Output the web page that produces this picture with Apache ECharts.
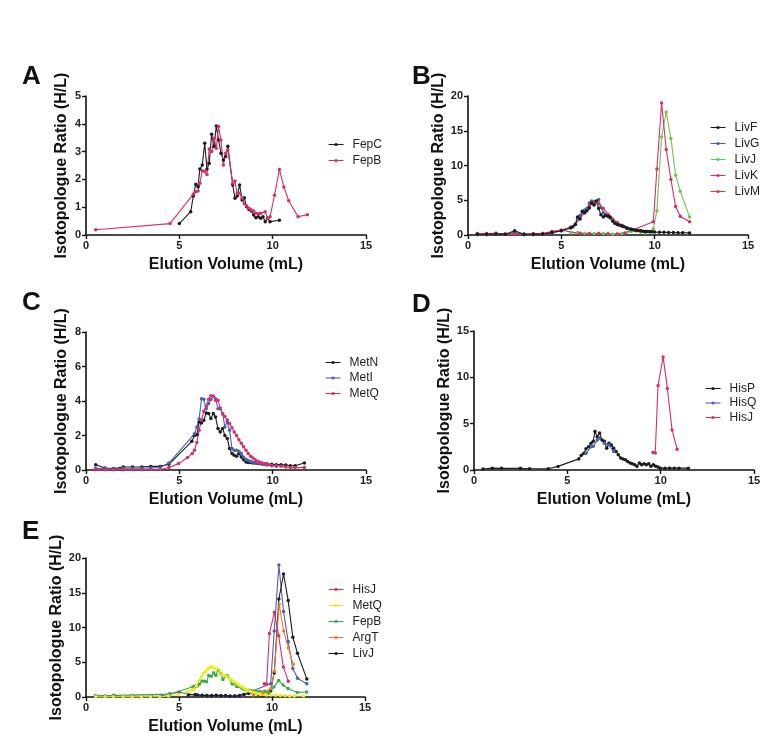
<!DOCTYPE html>
<html><head><meta charset="utf-8">
<script src="https://cdn.jsdelivr.net/npm/echarts@6/dist/echarts.min.js"></script>
<style>html,body{margin:0;padding:0;background:#fff}#c{width:780px;height:740px}</style>
</head><body><div id="c"></div>
<script>
// ---- tick settings ----
const xTicks = [0, 5, 10, 15];
const yMaxes = [5, 20, 8, 15, 20];
const yIntervals = [1, 5, 2, 5, 5];
const panelLetters = ['A', 'B', 'C', 'D', 'E'];

// ---- Panel A ----
const fepC = [[5.0,0.41],[5.61,0.84],[5.75,1.4],[5.88,1.83],[6.0,1.74],[6.1,2.37],[6.23,2.52],[6.36,3.3],[6.48,2.37],[6.6,2.58],[6.73,3.62],[6.86,3.18],[6.98,3.92],[7.1,3.42],[7.23,2.94],[7.36,2.7],[7.48,2.82],[7.6,3.19],[7.86,1.8],[7.98,1.32],[8.1,1.4],[8.23,1.8],[8.36,1.26],[8.48,1.34],[8.6,1.02],[8.73,0.92],[8.86,0.86],[8.98,0.72],[9.1,0.62],[9.23,0.66],[9.36,0.6],[9.48,0.66],[9.6,0.48],[9.73,0.6],[9.86,0.48],[10.36,0.53]];
const fepB = [[0.52,0.19],[4.5,0.41],[5.75,1.47],[5.88,1.56],[6.0,1.58],[6.1,1.86],[6.23,2.31],[6.36,2.28],[6.48,2.18],[6.6,3.09],[6.73,3.0],[6.86,3.48],[6.98,3.12],[7.1,3.9],[7.23,3.42],[7.36,2.52],[7.48,2.94],[7.6,3.06],[7.86,1.86],[7.98,1.94],[8.1,1.5],[8.23,1.5],[8.36,1.32],[8.48,1.12],[8.6,1.04],[8.73,0.96],[8.86,0.9],[8.98,0.86],[9.1,0.78],[9.23,0.76],[9.36,0.78],[9.6,0.84],[9.73,0.6],[9.86,0.66],[10.1,1.43],[10.36,2.36],[10.6,1.73],[10.86,1.23],[11.36,0.66],[11.86,0.73]];

// ---- Panel B ----
const livF = [[0.5,0.1],[1.0,0.12],[1.5,0.15],[2.0,0.12],[2.5,0.62],[3.0,0.1],[3.5,0.12],[4.0,0.15],[4.5,0.35],[5.0,0.6],[5.5,1.0],[5.62,1.2],[5.75,1.5],[5.87,2.6],[6.0,2.3],[6.12,3.4],[6.25,3.2],[6.37,3.5],[6.5,3.9],[6.62,4.6],[6.75,4.3],[6.87,4.9],[7.0,3.8],[7.12,2.9],[7.25,2.6],[7.37,2.8],[7.5,2.7],[7.62,2.6],[7.75,2.0],[7.87,1.7],[8.0,1.5],[8.12,1.4],[8.25,1.3],[8.37,1.2],[8.5,1.0],[8.62,0.9],[8.75,0.8],[8.87,0.75],[9.0,0.7],[9.12,0.65],[9.25,0.6],[9.37,0.55],[9.5,0.5],[9.62,0.5],[9.75,0.45],[9.87,0.45],[10.0,0.42],[10.25,0.4],[10.5,0.38],[10.75,0.36],[11.0,0.35],[11.25,0.33],[11.5,0.32],[11.87,0.3]];
const livG = [[0.5,0.05],[1.0,0.05],[1.5,0.1],[2.0,0.1],[2.5,0.4],[3.0,0.05],[3.5,0.05],[4.0,0.1],[4.5,0.3],[5.0,0.6],[5.5,1.1],[5.75,1.6],[5.87,2.4],[6.0,2.8],[6.12,3.2],[6.25,3.6],[6.37,3.8],[6.5,4.6],[6.62,4.9],[6.75,4.4],[6.87,4.7],[7.0,5.1],[7.12,4.0],[7.25,3.2],[7.37,2.9],[7.5,2.7],[7.62,2.4],[7.75,2.0],[7.87,1.7],[8.0,1.5],[8.25,1.3],[8.5,1.0],[8.75,0.85],[9.0,0.7],[9.25,0.6],[9.5,0.5],[9.75,0.45]];
const livJ = [[5.5,0.3],[5.87,0.35],[6.0,0.3],[6.25,0.25],[6.5,0.2],[6.75,0.2],[7.0,0.25],[7.25,0.2],[7.5,0.2],[7.75,0.15],[8.0,0.15],[8.25,0.2],[8.5,0.35],[8.75,0.5],[9.0,0.6],[9.25,0.4],[9.5,0.3],[9.75,0.5],[9.93,0.9],[10.12,3.5],[10.37,14.1],[10.62,17.7],[10.87,13.9],[11.12,8.6],[11.37,6.3],[11.87,2.6]];
const livK = [[0.5,0.15],[1.0,0.15],[1.5,0.25],[2.0,0.1],[2.5,0.15],[3.0,0.1],[3.5,0.1],[4.0,0.15],[4.5,0.45],[5.0,0.7],[6.0,0.2],[6.5,0.2],[7.0,0.2],[7.5,0.15],[8.0,0.15],[8.4,0.3],[9.93,1.9],[10.12,9.5],[10.37,19.0],[10.62,12.3],[10.87,8.0],[11.12,4.1],[11.37,2.7],[11.87,1.9]];
const livM = [[0.5,0.2],[1.0,0.2],[1.5,0.25],[2.0,0.15],[2.5,0.2],[3.0,0.15],[3.5,0.2],[4.0,0.25],[4.5,0.5],[5.0,0.7],[5.5,1.1],[5.75,1.5],[6.0,2.4],[6.25,3.2],[6.5,4.2],[6.75,4.8],[7.0,4.5],[7.25,3.8],[7.5,3.0],[7.75,2.3],[8.0,1.8],[8.25,1.4],[8.5,1.0],[8.75,0.8],[9.0,0.6],[9.5,0.5]];

// ---- Panel C ----
const metN = [[0.52,0.31],[1.02,0.12],[1.48,0.08],[2.0,0.17],[2.49,0.17],[2.99,0.17],[3.47,0.21],[3.97,0.21],[4.44,0.33],[5.67,1.66],[5.81,2.0],[5.94,2.05],[6.06,2.78],[6.19,2.72],[6.31,2.88],[6.44,3.3],[6.57,3.27],[6.69,2.98],[6.82,3.27],[6.94,3.07],[7.07,2.4],[7.19,2.2],[7.32,2.4],[7.44,2.0],[7.57,1.82],[7.69,1.24],[7.82,0.95],[7.94,0.85],[8.07,0.79],[8.19,0.95],[8.32,0.75],[8.44,0.6],[8.57,0.46],[8.69,0.43],[8.82,0.43],[8.94,0.41],[9.07,0.41],[9.2,0.37],[9.32,0.37],[9.45,0.35],[9.57,0.35],[9.7,0.35],[9.95,0.33],[10.2,0.31],[10.45,0.31],[10.7,0.29],[10.95,0.25],[11.2,0.25],[11.7,0.41]];
const metI = [[0.52,0.1],[1.02,0.08],[1.48,0.06],[2.0,0.1],[2.49,0.1],[2.99,0.1],[3.47,0.12],[3.97,0.14],[4.44,0.4],[5.81,2.1],[5.94,2.5],[6.06,2.95],[6.19,4.13],[6.31,4.1],[6.44,3.55],[6.57,3.85],[6.69,4.08],[6.82,4.27],[6.94,4.13],[7.07,3.55],[7.19,3.55],[7.32,3.27],[7.44,2.5],[7.57,2.78],[7.69,2.3],[7.82,1.24],[7.94,1.14],[8.07,1.14],[8.19,1.08],[8.32,0.95],[8.44,0.75],[8.57,0.62],[8.69,0.55],[8.82,0.5],[8.94,0.45],[9.07,0.42],[9.2,0.4],[9.32,0.38],[9.45,0.35],[9.57,0.32],[9.7,0.3],[9.95,0.25],[10.2,0.22]];
const metQ = [[0.52,0.02],[1.02,0.02],[1.48,0.02],[2.0,0.02],[2.49,0.02],[2.99,0.02],[3.47,0.03],[3.97,0.03],[4.44,0.14],[4.96,0.37],[5.44,0.72],[5.69,0.95],[5.81,1.14],[5.94,1.6],[6.06,2.3],[6.19,2.9],[6.31,3.4],[6.44,3.7],[6.57,4.1],[6.69,4.3],[6.82,4.27],[6.94,4.05],[7.07,4.05],[7.19,3.6],[7.32,3.25],[7.44,3.1],[7.57,2.9],[7.69,2.7],[7.82,2.45],[7.94,2.2],[8.07,2.0],[8.19,1.75],[8.32,1.55],[8.44,1.35],[8.57,1.15],[8.69,0.95],[8.82,0.8],[8.94,0.7],[9.07,0.6],[9.2,0.5],[9.32,0.45],[9.45,0.4],[9.57,0.35],[9.7,0.3],[9.95,0.27],[10.2,0.25],[10.45,0.22],[10.7,0.18],[10.95,0.14],[11.2,0.14],[11.7,0.14]];

// ---- Panel D ----
const hisP = [[0.48,0.1],[0.98,0.2],[1.48,0.18],[2.48,0.18],[2.98,0.14],[3.98,0.14],[4.5,0.39],[5.61,1.2],[5.75,1.58],[5.89,1.8],[6.0,2.3],[6.14,2.5],[6.27,2.9],[6.39,3.1],[6.48,4.15],[6.6,3.6],[6.73,4.0],[6.86,3.25],[6.98,3.1],[7.11,2.35],[7.23,2.9],[7.36,2.7],[7.48,2.35],[7.61,2.0],[7.73,1.65],[7.86,1.3],[7.98,1.18],[8.11,1.1],[8.23,0.93],[8.36,0.75],[8.48,0.68],[8.61,0.57],[8.73,0.4],[8.86,0.75],[8.98,0.57],[9.11,0.68],[9.23,0.57],[9.36,0.68],[9.48,0.4],[9.61,0.57],[9.73,0.4],[9.86,0.32],[9.98,0.2],[10.23,0.2],[10.48,0.2],[10.73,0.2],[10.98,0.2],[11.48,0.2]];
const hisQ = [[6.0,1.8],[6.27,2.5],[6.39,2.55],[6.6,3.25],[6.73,3.45],[6.98,2.9],[7.23,2.7],[7.48,2.0]];
const hisJ = [[9.59,1.9],[9.71,1.83],[9.86,9.13],[10.13,12.2],[10.36,8.8],[10.61,4.33],[10.88,2.25]];

// ---- Panel E (extra) ----
const argT = [[9.0,0.3],[9.5,0.6],[9.93,1.2],[10.13,3.7],[10.38,13.35],[10.63,9.5],[10.88,7.1],[11.14,4.7]];

const C = {black:'#1c1c1c', pink:'#d42f6e', blue:'#4b5fae', lgreen:'#72c44c', green:'#3aaa4a', red:'#e8343a', yellow:'#ecec1c', orange:'#f07a30'};
const FONT = '"Liberation Sans", Arial, Helvetica, sans-serif';

const grids = [
  {left:86, top:96, width:280, height:139},
  {left:468, top:96, width:280, height:139},
  {left:86, top:332, width:280, height:138},
  {left:474, top:331, width:280, height:139},
  {left:86, top:558, width:279, height:139}
];

function mkLine(name, data, color, gi, z) {
  return {type:'line', name, data, xAxisIndex:gi, yAxisIndex:gi, symbol:'circle', symbolSize:3.5,
    showSymbol:true, lineStyle:{width:1.1, color}, itemStyle:{color}, z: z||2,
    animation:false, emphasis:{disabled:true}, silent:true};
}

const series = [
  mkLine('FepC', fepC, C.black, 0),
  mkLine('FepB', fepB, C.pink, 0),
  mkLine('LivJ', livJ, C.lgreen, 1),
  mkLine('LivK', livK, C.pink, 1),
  mkLine('LivM', livM, C.red, 1),
  mkLine('LivG', livG, C.blue, 1),
  mkLine('LivF', livF, C.black, 1),
  mkLine('MetN', metN, C.black, 2),
  mkLine('MetI', metI, C.blue, 2),
  mkLine('MetQ', metQ, C.pink, 2),
  mkLine('HisP', hisP, C.black, 3),
  mkLine('HisQ', hisQ, C.blue, 3),
  mkLine('HisJ', hisJ, C.pink, 3),
  mkLine('LivK', livK, C.blue, 4),
  mkLine('LivJ', livJ, C.black, 4),
  mkLine('FepB', fepB, C.green, 4),
  mkLine('MetQ', metQ, C.yellow, 4),
  mkLine('ArgT', argT, C.orange, 4),
  mkLine('HisJ', hisJ, C.pink, 4)
];

function legendItems(list) {
  return list.map(([n, c]) => ({name:n, itemStyle:{color:c}, lineStyle:{color:c, width:1.1}}));
}
const legendDefs = [
  {left:328, top:137, gap:3, items:[['FepC',C.black],['FepB',C.pink]]},
  {left:710, top:120, gap:3, items:[['LivF',C.black],['LivG',C.blue],['LivJ',C.lgreen],['LivK',C.pink],['LivM',C.red]]},
  {left:325, top:355, gap:2.5, items:[['MetN',C.black],['MetI',C.blue],['MetQ',C.pink]]},
  {left:705, top:381, gap:1.5, items:[['HisP',C.black],['HisQ',C.blue],['HisJ',C.pink]]},
  {left:328, top:582, gap:3, items:[['HisJ',C.pink],['MetQ',C.yellow],['FepB',C.green],['ArgT',C.orange],['LivJ',C.black]]}
];

const axisLine = {show:true, onZero:false, lineStyle:{color:'#111', width:1.6}};
const axisTick = {show:true, inside:false, length:4, lineStyle:{color:'#111', width:1.4}};
const tickLabel = {color:'#222', fontWeight:'bold', fontSize:11, fontFamily:FONT, margin:5};

const option = {
  backgroundColor:'#fff',
  animation:false,
  title: panelLetters.map((t, i) => ({text:t, left:[17,407,17,407,17][i], top:[59,59,285,287,514][i], padding:5,
    textStyle:{fontSize:26, fontWeight:'bold', color:'#111', fontFamily:FONT}})),
  grid: grids,
  xAxis: grids.map((g, i) => ({gridIndex:i, type:'value', min:xTicks[0], max:xTicks[xTicks.length-1], interval:xTicks[1]-xTicks[0],
    axisLine, axisTick, axisLabel:tickLabel, splitLine:{show:false},
    name:'Elution Volume (mL)', nameLocation:'middle', nameGap:22,
    nameTextStyle:{fontSize:16, fontWeight:'bold', color:'#111', fontFamily:FONT}})),
  yAxis: grids.map((g, i) => ({gridIndex:i, type:'value', min:0, max:yMaxes[i], interval:yIntervals[i],
    axisLine, axisTick, axisLabel:tickLabel, splitLine:{show:false},
    name:'Isotopologue Ratio (H/L)', nameLocation:'middle', nameGap:16,
    nameTextStyle:{fontSize:16, fontWeight:'bold', color:'#111', fontFamily:FONT}})),
  legend: legendDefs.map(d => ({left:d.left, top:d.top + 1, padding:0, orient:'vertical', itemWidth:15, itemHeight:4, itemGap:d.gap,
    data:legendItems(d.items), selectedMode:false,
    textStyle:{fontSize:12, color:'#222', fontFamily:FONT, padding:[0,0,0,4], lineHeight:13}})),
  series
};
const chart = echarts.init(document.getElementById('c'), null, {renderer:'canvas'});
chart.setOption(option);
</script>
</body></html>
